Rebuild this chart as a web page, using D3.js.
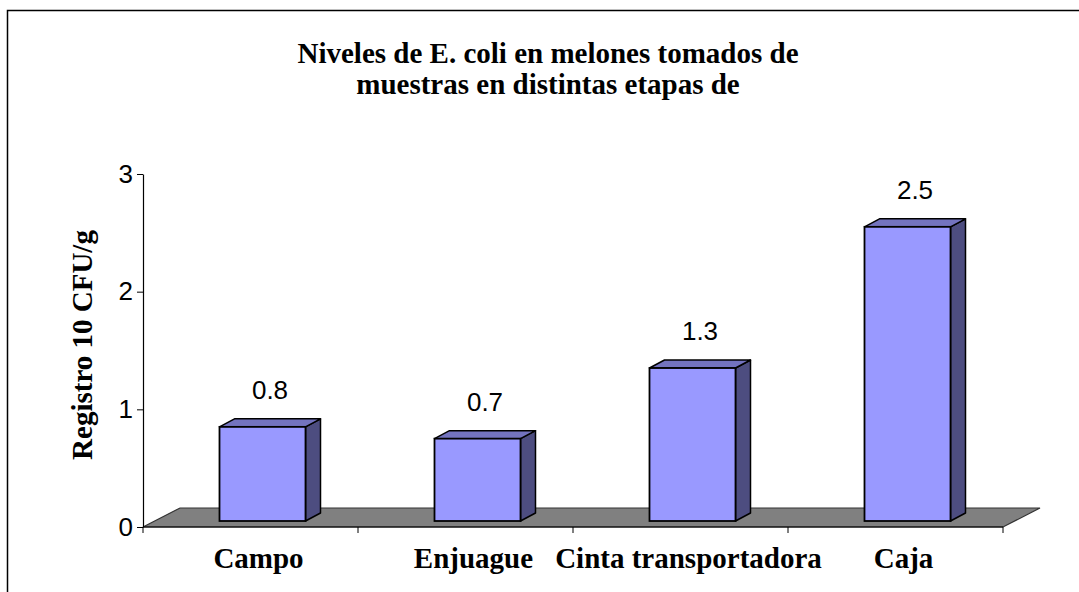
<!DOCTYPE html>
<meta charset="utf-8">
<head>
    <script src="https://d3js.org/d3.v7.min.js"></script>
    <style>
        body { margin: 0; background: #fff; }
        .cat { font-family: "Liberation Serif", "Times New Roman", serif; font-weight: bold; font-size: 29px; }
        .num { font-family: "Liberation Sans", Arial, sans-serif; }
    </style>
</head>
<body>
<div id="my_dataviz"></div>
</body>

<script>

    // data
    var categories = ["Campo", "Enjuague", "Cinta transportadora", "Caja"];
    var values = [0.8, 0.7, 1.3, 2.5];
    var yTicks = [0, 1, 2, 3];
    var titleLines = ["Niveles de E. coli en melones tomados de", "muestras en distintas etapas de"];
    var yTitle = "Registro 10 CFU/g";

    var W = 1079, H = 592;

    var svg = d3.select("#my_dataviz")
        .append("svg")
        .attr("width", W)
        .attr("height", H);

    // chart frame (cropped at right/bottom)
    svg.append("rect")
        .attr("x", 7.5).attr("y", 10.5)
        .attr("width", W + 20).attr("height", H + 20)
        .attr("fill", "none")
        .attr("stroke", "#000")
        .attr("stroke-width", 1.5);

    var x = d3.scaleBand()
        .domain(categories)
        .range([143, 1003]);

    var y = d3.scaleLinear()
        .domain([0, 3])
        .range([527, 174]);

    // 3d depth of floor and bars
    var depth = {dx: 37, dy: 19};
    var barShift = {dx: 12, dy: 6};   // bar front face offset into the floor
    var barDepth = {dx: 15, dy: 8};
    var barW = x.bandwidth() * 0.4;

    // floor
    var f0 = y(0);
    svg.append("polygon")
        .attr("points", [
            [x.range()[0], f0],
            [x.range()[1], f0],
            [x.range()[1] + depth.dx, f0 - depth.dy],
            [x.range()[0] + depth.dx, f0 - depth.dy]
        ].map(function(p) { return p.join(","); }).join(" "))
        .attr("fill", "#808080")
        .attr("stroke", "#333")
        .attr("stroke-width", 1.2);

    // Y axis
    svg.append("g")
        .attr("transform", "translate(" + x.range()[0] + ",0)")
        .call(d3.axisLeft(y).tickValues(yTicks).tickSize(6).tickSizeOuter(0).tickFormat(d3.format("d")))
        .call(function(g) {
            g.select(".domain").attr("stroke", "#000").attr("stroke-width", 1.2);
            g.selectAll(".tick line").attr("stroke", "#000");
            g.selectAll(".tick text")
                .attr("class", "num")
                .attr("font-size", 26)
                .attr("fill", "#000")
                .attr("x", -10);
        });

    // X axis ticks (front edge of floor)
    var xTickPos = categories.map(function(c) { return x(c); }).concat([x.range()[1]]);
    svg.append("g")
        .selectAll("line")
        .data(xTickPos)
        .enter().append("line")
        .attr("x1", function(d) { return d; })
        .attr("x2", function(d) { return d; })
        .attr("y1", f0)
        .attr("y2", f0 + 6)
        .attr("stroke", "#000")
        .attr("stroke-width", 1);
    svg.append("line")
        .attr("x1", x.range()[0]).attr("x2", x.range()[1])
        .attr("y1", f0).attr("y2", f0)
        .attr("stroke", "#000").attr("stroke-width", 1.2);

    // bars
    var bars = svg.append("g")
        .selectAll("g")
        .data(values)
        .enter().append("g");

    function fx(d, i) { return x(categories[i]) + (x.bandwidth() - barW) / 2 + barShift.dx; }
    function barBase() { return f0 - barShift.dy; }
    function barTop(d) { return y(d) - barShift.dy; }

    // side face
    bars.append("polygon")
        .attr("points", function(d, i) {
            var x1 = fx(d, i) + barW;
            return [[x1, barBase()], [x1 + barDepth.dx, barBase() - barDepth.dy],
                    [x1 + barDepth.dx, barTop(d) - barDepth.dy], [x1, barTop(d)]]
                .map(function(p) { return p.join(","); }).join(" ");
        })
        .attr("fill", "#4d4d80")
        .attr("stroke", "#000")
        .attr("stroke-width", 1.5)
        .attr("stroke-linejoin", "round");

    // top face
    bars.append("polygon")
        .attr("points", function(d, i) {
            var x0 = fx(d, i);
            return [[x0, barTop(d)], [x0 + barW, barTop(d)],
                    [x0 + barW + barDepth.dx, barTop(d) - barDepth.dy], [x0 + barDepth.dx, barTop(d) - barDepth.dy]]
                .map(function(p) { return p.join(","); }).join(" ");
        })
        .attr("fill", "#7373bf")
        .attr("stroke", "#000")
        .attr("stroke-width", 1.5)
        .attr("stroke-linejoin", "round");

    // front face
    bars.append("rect")
        .attr("x", fx)
        .attr("y", function(d) { return barTop(d); })
        .attr("width", barW)
        .attr("height", function(d) { return barBase() - barTop(d); })
        .attr("fill", "#9999ff")
        .attr("stroke", "#000")
        .attr("stroke-width", 1.8);

    // value labels
    bars.append("text")
        .attr("class", "num")
        .attr("x", function(d, i) { return fx(d, i) + barW / 2 + barDepth.dx / 2; })
        .attr("y", function(d) { return barTop(d) - barDepth.dy - 20; })
        .attr("text-anchor", "middle")
        .attr("font-size", 26)
        .text(function(d) { return d3.format(".1f")(d); });

    // category labels
    svg.append("g")
        .selectAll("text")
        .data(categories)
        .enter().append("text")
        .attr("class", "cat")
        .attr("x", function(d) { return x(d) + x.bandwidth() / 2 + 8; })
        .attr("y", 568)
        .attr("text-anchor", "middle")
        .text(function(d) { return d; });

    // title
    svg.append("g")
        .selectAll("text")
        .data(titleLines)
        .enter().append("text")
        .attr("class", "cat")
        .attr("x", 548)
        .attr("y", function(d, i) { return 63 + i * 31; })
        .attr("text-anchor", "middle")
        .text(function(d) { return d; });

    // y axis title
    svg.append("text")
        .attr("class", "cat")
        .attr("transform", "translate(92,345) rotate(-90)")
        .attr("text-anchor", "middle")
        .text(yTitle);

</script>
